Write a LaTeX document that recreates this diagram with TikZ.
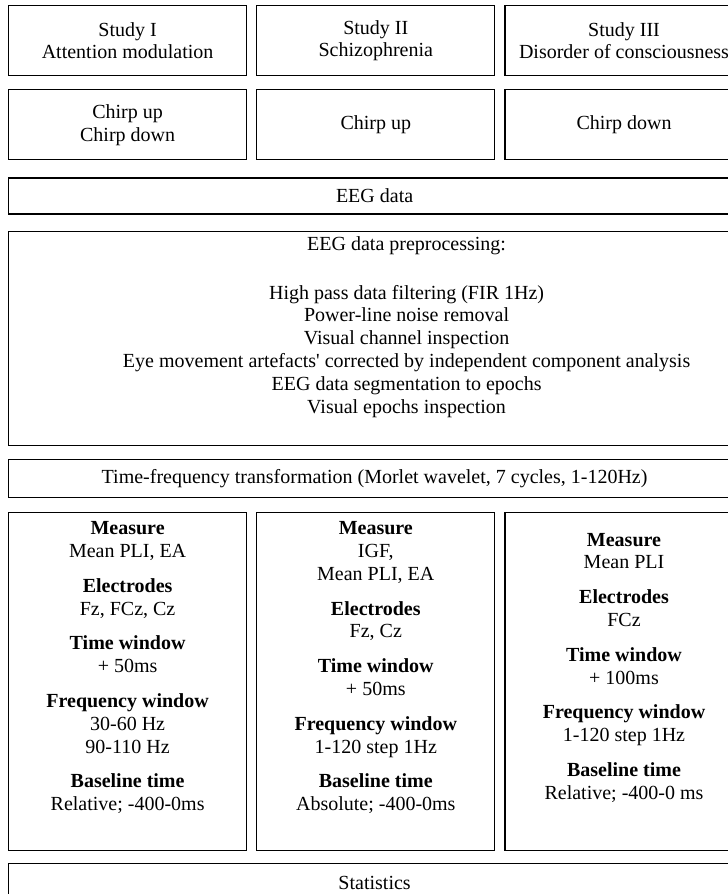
\documentclass[tikz,border=0pt]{standalone}
\usepackage{fontspec}
\setmainfont{Liberation Serif}
\usetikzlibrary{positioning}
\tikzset{
	boxrow/.style ={rectangle, draw=black, line width=1.2pt, minimum width=238pt, minimum height=70pt, align=center, inner sep=0pt},
	wide/.style   ={rectangle, draw=black, line width=1.2pt, minimum width=732pt, align=center, inner sep=0pt},
	measbox/.style={rectangle, draw=black, line width=1.2pt, minimum width=238pt, minimum height=338pt, align=center, inner sep=0pt},
}
\begin{document}
\begin{tikzpicture}[font=\fontsize{20}{22.8}\selectfont, node distance=9pt]
	\useasboundingbox (0,0) rectangle (728pt,-894pt);
	\node[boxrow, anchor=north west] (s1) at (8pt,-5pt) {Study I\\Attention modulation};
	\node[boxrow, right=of s1] (s2) {Study II\\Schizophrenia};
	\node[boxrow, right=of s2] (s3) {Study III\\Disorder of consciousness};
	\node[boxrow, below=13pt of s1] (c1) {Chirp up\\Chirp down};
	\node[boxrow, right=of c1] (c2) {Chirp up};
	\node[boxrow, right=of c2] (c3) {Chirp down};
	\node[wide, minimum height=36pt, below=17pt of c1.south west, anchor=north west] (eeg) {EEG data};
	\node[wide, minimum width=796pt, minimum height=214pt, below=16pt of eeg.south west, anchor=north west] (pre) {EEG data preprocessing:\\[26pt]
		High pass data filtering (FIR 1Hz)\\ Power-line noise removal\\ Visual channel inspection\\
		Eye movement artefacts\textquotesingle{} corrected by independent component analysis\\
		EEG data segmentation to epochs\\ Visual epochs inspection\\[4pt]\mbox{}};
	\node[wide, minimum height=38pt, below=13pt of pre.south west, anchor=north west] (tf) {Time-frequency transformation (Morlet wavelet, 7 cycles, 1-120Hz)};
	\node[measbox, below=14pt of tf.south west, anchor=north west] (m1) {\textbf{Measure}\\ Mean PLI, EA\\[12pt]
		\textbf{Electrodes}\\ Fz, FCz, Cz\\[12pt] \textbf{Time window}\\ + 50ms\\[12pt]
		\textbf{Frequency window}\\ 30-60 Hz\\ 90-110 Hz\\[12pt] \textbf{Baseline time}\\ Relative; -400-0ms\\[8pt]\mbox{}};
	\node[measbox, right=of m1] (m2) {\textbf{Measure}\\ IGF,\\ Mean PLI, EA\\[12pt]
		\textbf{Electrodes}\\ Fz, Cz\\[12pt] \textbf{Time window}\\ + 50ms\\[12pt]
		\textbf{Frequency window}\\ 1-120 step 1Hz\\[12pt] \textbf{Baseline time}\\ Absolute; -400-0ms\\[8pt]\mbox{}};
	\node[measbox, right=of m2] (m3) {\textbf{Measure}\\ Mean PLI\\[12pt]
		\textbf{Electrodes}\\ FCz\\[12pt] \textbf{Time window}\\ + 100ms\\[12pt]
		\textbf{Frequency window}\\ 1-120 step 1Hz\\[12pt] \textbf{Baseline time}\\ Relative; -400-0 ms\\[8pt]\mbox{}};
	\node[wide, minimum height=38pt, below=12pt of m1.south west, anchor=north west] (stat) {Statistics};
\end{tikzpicture}
\end{document}
